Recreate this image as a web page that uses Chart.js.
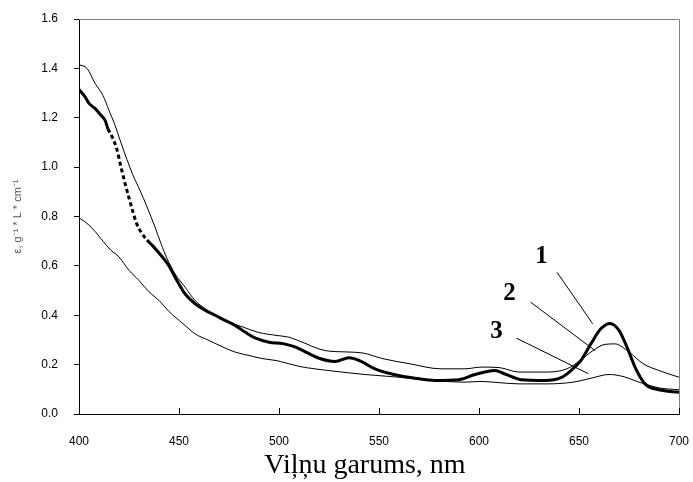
<!DOCTYPE html>
<html>
<head>
<meta charset="utf-8">
<script src="https://cdn.jsdelivr.net/npm/chart.js@4/dist/chart.umd.min.js"></script>
<style>
html,body{margin:0;padding:0;background:#fff;}
#wrap{width:693px;height:482px;}
</style>
</head>
<body>
<div id="wrap"><canvas id="c" width="693" height="482"></canvas></div>
<script>
// Curve 1 (thick)
const wl1 = [400,403,405,408,411,413,414.5,417,419,421,423,425,427,428.5,431,434,437,440,445,448,453,458,463,468,473,478,483,488,495,502,508,512,520,528,535,540,548,558,568,578,590,598,604,608,613,621,633,641,646,651,656,661,665.5,670,674,678,683,690,700];
const eps1 = [1.315,1.285,1.258,1.238,1.21,1.19,1.155,1.115,1.07,1.0,0.935,0.875,0.818,0.778,0.737,0.705,0.68,0.652,0.6,0.555,0.487,0.447,0.42,0.4,0.379,0.359,0.332,0.308,0.291,0.285,0.272,0.257,0.226,0.213,0.228,0.217,0.183,0.159,0.145,0.136,0.139,0.16,0.172,0.176,0.162,0.139,0.136,0.147,0.176,0.217,0.285,0.346,0.367,0.339,0.271,0.19,0.122,0.098,0.088];
// Curve 2 (upper thin)
const wl2 = [400,404,408,412,415,418,420.5,424,427,430.5,434,438,441,444,448,453,458,463,468,475,482,490,499,505,511,523,535,542,552,565,581,593,601,610,620,634,644,650.5,657,663,668,675,682,690,700];
const eps2 = [1.415,1.4,1.34,1.29,1.23,1.17,1.11,1.03,0.967,0.906,0.839,0.757,0.69,0.63,0.568,0.514,0.46,0.427,0.4,0.372,0.352,0.33,0.318,0.311,0.293,0.257,0.251,0.247,0.224,0.204,0.183,0.183,0.19,0.188,0.17,0.17,0.183,0.217,0.257,0.282,0.284,0.251,0.204,0.176,0.149];
// Curve 3 (lower thin)
const wl3 = [400,404,408,412,416,420,425,430,435,440,445,452,458,465,472,478,485,492,499,510,527,543,560,577,593,601,610,620,634,647,657,665,672,680,690,700];
const eps3 = [0.795,0.772,0.74,0.7,0.663,0.636,0.582,0.541,0.495,0.46,0.415,0.366,0.325,0.298,0.271,0.251,0.237,0.224,0.216,0.193,0.174,0.16,0.149,0.136,0.129,0.132,0.127,0.122,0.122,0.129,0.147,0.16,0.152,0.129,0.106,0.098];

const xTicks = [400,450,500,550,600,650,700];
const yTicks = [0.0,0.2,0.4,0.6,0.8,1.0,1.2,1.4,1.6];

// Curve labels and leader lines (data coordinates)
const curveLabels = ['1','2','3'];
const labelPos = [[631.3,0.636],[615.2,0.487],[608.8,0.332]];
const leaderFrom = [[639,0.574],[625.8,0.453],[618.8,0.307]];
const leaderTo = [[656.8,0.366],[658,0.257],[654.7,0.163]];

function pts(w,v){return w.map((x,i)=>({x:x,y:v[i]}));}

const decor = {
  id:'decor',
  afterDatasetsDraw(chart){
    const {ctx, chartArea:a, scales:{x,y}} = chart;
    ctx.save();
    ctx.strokeStyle='#808080';
    ctx.lineWidth=1;
    ctx.beginPath();
    ctx.moveTo(a.left, a.top+0.5); ctx.lineTo(a.right+0.5, a.top+0.5); ctx.lineTo(a.right+0.5, a.bottom);
    ctx.stroke();
    ctx.strokeStyle='#000';
    ctx.beginPath();
    xTicks.forEach(v=>{const px=Math.round(x.getPixelForValue(v))+0.5; ctx.moveTo(px,a.bottom); ctx.lineTo(px,a.bottom-6);});
    ctx.stroke();
    ctx.lineWidth=1;
    ctx.beginPath();
    leaderFrom.forEach((p,i)=>{
      ctx.moveTo(x.getPixelForValue(p[0]), y.getPixelForValue(p[1]));
      ctx.lineTo(x.getPixelForValue(leaderTo[i][0]), y.getPixelForValue(leaderTo[i][1]));
    });
    ctx.stroke();
    ctx.fillStyle='#000';
    ctx.font='bold 25px "Liberation Serif", serif';
    ctx.textAlign='center'; ctx.textBaseline='middle';
    curveLabels.forEach((t,i)=>{
      ctx.fillText(t, x.getPixelForValue(labelPos[i][0]), y.getPixelForValue(labelPos[i][1]));
    });
    ctx.restore();
  }
};

new Chart(document.getElementById('c'), {
  type:'line',
  data:{
    datasets:[
      {label:'1', data:pts(wl1,eps1), borderColor:'#000', borderWidth:3, pointRadius:0, cubicInterpolationMode:'monotone',
       segment:{borderDash:ctx=>(ctx.p0.parsed.x>=414 && ctx.p0.parsed.x<432)?[4,3]:undefined}},
      {label:'2', data:pts(wl2,eps2), borderColor:'#000', borderWidth:1, pointRadius:0, cubicInterpolationMode:'monotone'},
      {label:'3', data:pts(wl3,eps3), borderColor:'#000', borderWidth:1, pointRadius:0, cubicInterpolationMode:'monotone'}
    ]
  },
  options:{
    responsive:false,
    animation:false,
    layout:{padding:{top:19,right:14,left:0,bottom:0}},
    plugins:{legend:{display:false}, tooltip:{enabled:false}},
    scales:{
      x:{
        type:'linear', min:400, max:700,
        afterBuildTicks:s=>{s.ticks=xTicks.map(v=>({value:v}));},
        afterFit:s=>{s.height=68; s.paddingLeft=0; s.paddingRight=0;},
        grid:{display:true, drawOnChartArea:false, drawTicks:false},
        border:{display:true,color:'#000',width:1},
        ticks:{color:'#000', padding:20, font:{family:'"Liberation Sans", Arial, sans-serif', size:12}, maxRotation:0},
        title:{display:true, text:'Viļņu garums, nm\u00A0\u00A0\u00A0\u00A0', color:'#000', font:{family:'"Liberation Serif", "Times New Roman", serif', size:28}, padding:{top:0,bottom:0}}
      },
      y:{
        type:'linear', min:0, max:1.6,
        afterBuildTicks:s=>{s.ticks=yTicks.map(v=>({value:v}));},
        afterFit:s=>{s.width=79; s.paddingTop=0; s.paddingBottom=0;},
        grid:{display:true, drawOnChartArea:false, drawTicks:true, tickLength:5, color:'#000'},
        border:{display:true,color:'#000',width:1},
        ticks:{color:'#000', padding:16, font:{family:'"Liberation Sans", Arial, sans-serif', size:12}, callback:v=>v.toFixed(1)},
        title:{display:true, text:'ε, g⁻¹ * L * cm⁻¹', color:'#555', font:{family:'"Liberation Sans", Arial, sans-serif', size:11}, padding:{top:11,bottom:0}}
      }
    }
  },
  plugins:[decor]
});
</script>
</body>
</html>
